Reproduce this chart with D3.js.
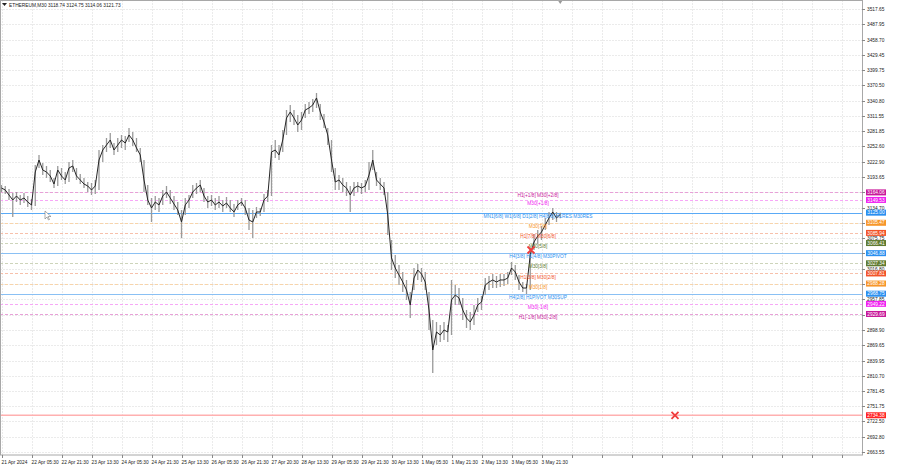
<!DOCTYPE html>
<html><head><meta charset="utf-8">
<script src="https://cdn.jsdelivr.net/npm/d3@7"></script>
<style>body{margin:0;background:#fff}svg{display:block;font-family:"Liberation Sans",Arial,sans-serif}</style>
</head><body><svg id="c" width="900" height="468"></svg>
<script>
// ---- data ----
const closeP=[3172.5,3168.7,3159,3149.4,3157.1,3149.4,3153.3,3145.5,3139.8,3203.4,
3226.5,3207.2,3203.4,3195.7,3180.2,3207.2,3195.7,3188,3211.1,3215,
3195.7,3188,3180.2,3176.4,3168.7,3176.4,3226.5,3245.8,3255.4,3265.1,
3245.8,3255.4,3265.1,3259.3,3274.7,3265.1,3249.7,3236.2,3188,3149.4,
3134,3145.5,3139.8,3157.1,3164.8,3153.3,3141.7,3130.1,3107,3139.8,
3149.4,3164.8,3172.5,3178.3,3157.1,3145.5,3149.4,3139.8,3145.5,3137.8,
3143.6,3134,3126.3,3139.8,3145.5,3134,3110.8,3107,3126.3,3126.3,
3149.4,3157.1,3241.9,3245.8,3236.2,3265.1,3307.5,3319.1,3307.5,3294,
3303.6,3322.9,3326.8,3332.6,3346.1,3319.1,3299.8,3274.7,3226.5,3184.1,
3188,3178.3,3172.5,3159,3172.5,3176.4,3172.5,3176.4,3197.6,3226.5,
3188,3180.2,3172.5,3120.5,3037.6,3018.3,3004.8,2991.3,2975.9,2947,
2999,3014.4,3006.7,2991.3,2937.3,2860.2,2894.9,2889.1,2898.8,2894.9,
2956.6,2966.2,2960.5,2937.3,2921.9,2914.2,2927.7,2947,2952.7,2985.5,
2991.3,2995.2,2991.3,2995.2,2995.2,2999,3018.3,3010.6,2991.3,2979.7,
2979.7,3043.4,3068.4,3080,3087.7,3101.2,3114.7,3126.3,3114.7,3121.73];
const highP=[3178.3,3176.4,3170.6,3162.9,3164.8,3159,3162.9,3157.1,3151.3,3216.9,
3236.2,3220.7,3215,3207.2,3191.8,3215,3211.1,3203.4,3222.7,3226.5,
3211.1,3199.5,3191.8,3184.1,3182.2,3188,3245.8,3255.4,3268.9,3278.6,
3259.3,3268.9,3274.7,3272.8,3288.2,3280.5,3268.9,3249.7,3226.5,3178.3,
3153.3,3157.1,3153.3,3168.7,3176.4,3168.7,3157.1,3145.5,3130.1,3153.3,
3159,3178.3,3182.2,3188,3172.5,3157.1,3159,3153.3,3157.1,3149.4,
3155.2,3149.4,3141.7,3149.4,3153.3,3149.4,3134,3130.1,3135.9,3134,
3161,3168.7,3255.4,3265.1,3255.4,3284.4,3322.9,3332.6,3322.9,3313.3,
3319.1,3334.5,3338.3,3344.1,3355.7,3334.5,3315.2,3288.2,3265.1,3211.1,
3197.6,3191.8,3184.1,3176.4,3184.1,3184.1,3182.2,3188,3222.7,3245.8,
3203.4,3191.8,3184.1,3164.8,3072.3,3043.4,3024.1,3010.6,2995.2,2972,
3018.3,3026,3018.3,3010.6,2972,2918,2914.2,2908.4,2914.2,2908.4,
2995.2,2985.5,2979.7,2960.5,2937.3,2933.5,2947,2960.5,2964.3,2999,
3002.9,3006.7,3002.9,3006.7,3006.7,3010.6,3029.9,3024.1,3004.8,2991.3,
2987.4,3056.9,3083.8,3091.6,3099.3,3114.7,3126.3,3134,3126.3,3124.75];
const lowP=[3164.8,3161,3149.4,3116.6,3145.5,3139.8,3143.6,3135.9,3130.1,3137.8,
3211.1,3197.6,3191.8,3184.1,3172.5,3176.4,3188,3180.2,3184.1,3203.4,
3188,3180.2,3172.5,3164.8,3159,3161,3168.7,3222.7,3241.9,3249.7,
3236.2,3241.9,3249.7,3245.8,3261.2,3253.5,3241.9,3222.7,3164.8,3139.8,
3107,3130.1,3126.3,3139.8,3153.3,3141.7,3130.1,3120.5,3076.1,3120.5,
3134,3153.3,3161,3164.8,3145.5,3134,3137.8,3130.1,3134,3126.3,
3134,3126.3,3116.6,3130.1,3137.8,3120.5,3091.6,3076.1,3114.7,3118.6,
3126.3,3145.5,3157.1,3230.4,3226.5,3241.9,3274.7,3299.8,3294,3280.5,
3284.4,3307.5,3315.2,3319.1,3326.8,3303.6,3288.2,3255.4,3203.4,3168.7,
3168.7,3164.8,3157.1,3126.3,3157.1,3164.8,3161,3164.8,3168.7,3207.2,
3176.4,3168.7,3159,3081.9,3014.4,2999,2985.5,2972,2956.6,2921.9,
2975.9,2995.2,2991.3,2975.9,2898.8,2815.9,2869.8,2875.6,2879.5,2875.6,
2889.1,2947,2947,2918,2902.6,2898.8,2908.4,2933.5,2937.3,2966.2,
2975.9,2979.7,2979.7,2981.7,2983.6,2987.4,3004.8,2995.2,2975.9,2972,
2968.2,2975.9,3053,3064.6,3072.3,3091.6,3101.2,3110.8,3107,3114.06];
const timeLabels=["21 Apr 2024","22 Apr 05:30","22 Apr 21:30","23 Apr 13:30","24 Apr 05:30","24 Apr 21:30","25 Apr 13:30","26 Apr 05:30","26 Apr 21:30","27 Apr 20:30","28 Apr 13:30","29 Apr 05:30","29 Apr 21:30","30 Apr 13:30","1 May 05:30","1 May 21:30","2 May 13:30","3 May 05:30","3 May 21:30"];
const priceTicks=[3517.65,3487.95,3458.70,3429.45,3399.75,3370.50,3340.80,3311.55,3281.85,3252.60,3222.90,3193.65,3164.40,3134.70,3105.45,3075.75,3046.50,3016.80,2987.55,2957.85,2928.60,2898.90,2869.65,2839.95,2810.70,2781.45,2751.75,2722.50,2692.80,2663.55];
const levelPrices=[3164.06,3149.53,3125.00,3105.47,3085.94,3066.41,3046.88,3027.34,3007.81,2988.28,2968.75,2949.22,2929.69];
const levelTexts=["H1[+1/8] M30[+2/8]","M30[+1/8]","MN1[6/8] W1[6/8] D1[2/8] H4[8/8] H1RES M30RES","M30[7/8]","H1[7/8] M30[6/8]","M30[5/8]","H4[3/8] H1[4/8] M30PIVOT","M30[3/8]","H1[3/8] M30[2/8]","M30[1/8]","H4[2/8] H1PIVOT M30SUP","M30[-1/8]","H1[-1/8] M30[-2/8]"];
const levelKinds=["p","m","b","o","r","g","b","g","r","o","b","m","p"];
const redLevel=2734.38;
const crossIdx=[141.2,179.6];
const crossPrice=[3053.0,2734.38];
const header="ETHEREUM,M30  3118.74 3124.75 3114.06 3121.73";

// ---- styles ----
const palette={p:"#c8189a",m:"#f020f0",b:"#2a8ff0",o:"#f7962a",r:"#f2542a",g:"#5f7a30"};
const lineCol={p:"#e8a0d8",m:"#f7a8f7",b:"#8ac0f4",o:"#f8d4aa",r:"#f7c0aa",g:"#cdd4ba"};
const W=900,H=468,R=862,B=455;
const svg=d3.select("#c");
const fs=4.8;

const n=closeP.length;
const x=d3.scaleLinear().domain([0,1]).range([1.5,5.25]);
const y=d3.scaleLinear().domain([2663.55,3517.65]).range([452,9]);

// grid
const gridIdx=d3.range(0,230,8);
svg.append("g").selectAll("line").data(gridIdx).join("line")
  .attr("x1",d=>Math.round(x(d))+0.5).attr("x2",d=>Math.round(x(d))+0.5).attr("y1",0).attr("y2",B)
  .attr("stroke","#ebebeb").attr("stroke-width",1).attr("stroke-dasharray","2,1");
svg.append("g").selectAll("line").data(priceTicks).join("line")
  .attr("x1",0).attr("x2",R).attr("y1",d=>Math.round(y(d))+0.5).attr("y2",d=>Math.round(y(d))+0.5)
  .attr("stroke","#ebebeb").attr("stroke-width",1).attr("stroke-dasharray","2,1");

// level lines
const lv=svg.append("g");
levelPrices.forEach((p,k)=>{
  const kind=levelKinds[k];
  const yy=Math.round(y(p))+0.5;
  lv.append("line").attr("x1",0).attr("x2",R).attr("y1",yy).attr("y2",yy)
    .attr("stroke",lineCol[kind]).attr("stroke-width",1)
    .attr("stroke-dasharray",kind==="b"?null:"3,2");
});
lv.append("line").attr("x1",0).attr("x2",R).attr("y1",y(redLevel)).attr("y2",y(redLevel))
  .attr("stroke","#ffb0b0").attr("stroke-width",1.3);
lv.append("line").attr("x1",0).attr("x2",R).attr("y1",Math.round(y(levelPrices[2]))+0.5).attr("y2",Math.round(y(levelPrices[2]))+0.5)
  .attr("stroke","#5aaaf6").attr("stroke-width",1);

// price bars
const bars=svg.append("g");
bars.selectAll("line").data(d3.range(n)).join("line")
  .attr("x1",i=>x(i)).attr("x2",i=>x(i)).attr("y1",i=>y(highP[i])).attr("y2",i=>y(lowP[i]))
  .attr("stroke","#9a9a9a").attr("stroke-width",1.3);
svg.append("path").datum(d3.range(n))
  .attr("d",d3.line().x(i=>x(i)).y(i=>y(closeP[i])))
  .attr("fill","none").attr("stroke","#262626").attr("stroke-width",1);

// level texts
const lt=svg.append("g").attr("font-size",fs).attr("text-anchor","middle");
levelPrices.forEach((p,k)=>{
  lt.append("text").attr("x",538).attr("y",y(p)+1).attr("dy","0.85em")
    .attr("fill",palette[levelKinds[k]]).text(levelTexts[k]);
});

// cross markers
crossIdx.forEach((ci,k)=>{
  const cx=x(ci),cy=y(crossPrice[k]),s=3.5;
  svg.append("path").attr("d",`M${cx-s},${cy-s}L${cx+s},${cy+s}M${cx-s},${cy+s}L${cx+s},${cy-s}`)
    .attr("stroke","#f03c3c").attr("stroke-width",1.8).attr("fill","none");
});

// mouse cursor
svg.append("path").attr("d","M45,211l0,8l2,-2l1.5,3l1,-0.5l-1.5,-3l3,0z")
  .attr("fill","#fff").attr("stroke","#777").attr("stroke-width",0.6);

// frame
svg.append("rect").attr("x",0.5).attr("y",0.5).attr("width",R).attr("height",B-0.5)
  .attr("fill","none").attr("stroke","#a8a8a8").attr("stroke-width",1);
svg.append("path").attr("d",`M${x(149)+2},1l-2,3l-2,-3z`).attr("fill","#999");

// right axis
const ax=svg.append("g").attr("font-size",fs).attr("fill","#222");
priceTicks.forEach(p=>{
  const yy=Math.round(y(p))+0.5;
  ax.append("line").attr("x1",R).attr("x2",R+3).attr("y1",yy).attr("y2",yy).attr("stroke","#888");
  ax.append("text").attr("x",867).attr("y",yy).attr("dy","0.35em").text(p.toFixed(2));
});
// level price boxes
const lb=svg.append("g").attr("font-size",fs).attr("text-anchor","middle");
levelPrices.concat([redLevel]).forEach((p,k)=>{
  const col=k<levelPrices.length?palette[levelKinds[k]]:"#ff2424";
  const yy=y(p);
  lb.append("rect").attr("x",866).attr("y",yy-3).attr("width",20).attr("height",6).attr("fill",col);
  lb.append("text").attr("x",876).attr("y",yy).attr("dy","0.35em").attr("fill","#fff").text(p.toFixed(2));
});

// bottom axis
const bx=svg.append("g").attr("font-size",fs).attr("fill","#222");
gridIdx.forEach(i=>{
  bx.append("line").attr("x1",Math.round(x(i))+0.5).attr("x2",Math.round(x(i))+0.5).attr("y1",B).attr("y2",B+3).attr("stroke","#888");
});
timeLabels.forEach((t,k)=>{
  bx.append("text").attr("x",x(k*8)).attr("y",464).text(t);
});

// header
svg.append("path").attr("d","M2,3h5l-2.5,3z").attr("fill","#222");
svg.append("text").attr("x",9).attr("y",7).attr("font-size",fs).attr("fill","#222").text(header);
</script></body></html>
